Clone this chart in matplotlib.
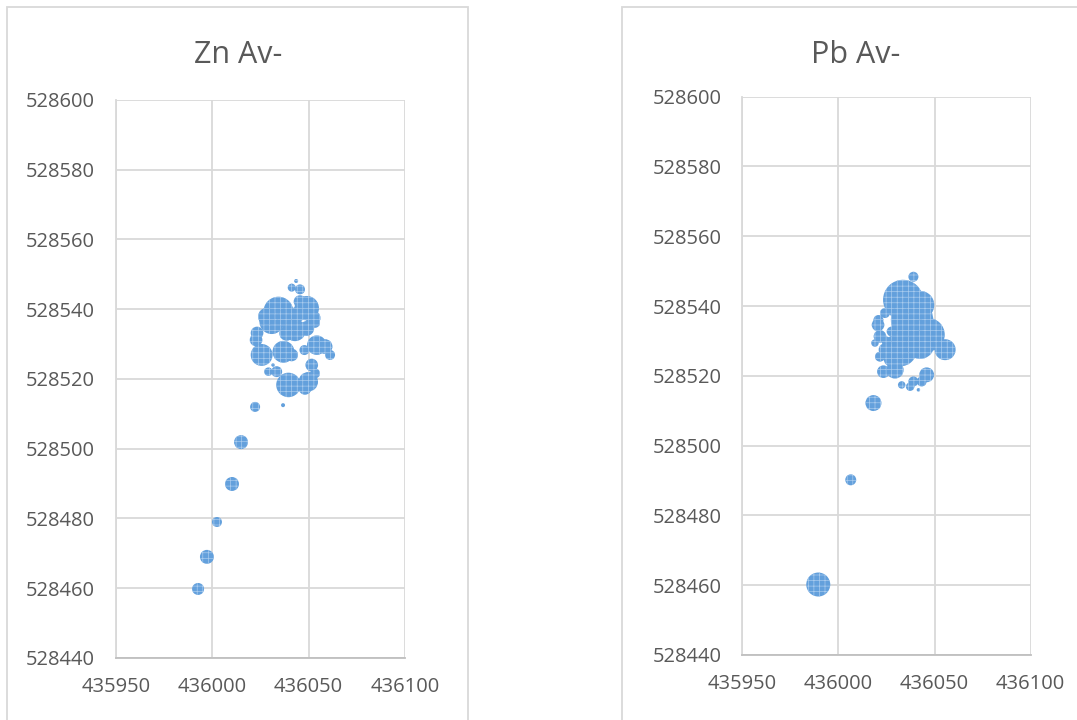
import matplotlib
matplotlib.use("Agg")
import matplotlib.pyplot as plt
from matplotlib.patches import Rectangle

plt.rcParams['font.family'] = ['Open Sans', 'DejaVu Sans']
plt.rcParams['hatch.linewidth'] = 0.5

# ---------------- data ----------------
titles = ["Zn Av-", "Pb Av-"]
x_ticks = [435950, 436000, 436050, 436100]
y_ticks = [528440, 528460, 528480, 528500, 528520, 528540, 528560, 528580, 528600]

zn_x = [435992.6, 435997.2, 436002.4, 436010.2, 436014.9, 436022.2, 436036.7,
        436043.5, 436041.2, 436045.5, 436034.3, 436030.8, 436039.5, 436028.2,
        436049.0, 436052.3, 436045.5, 436053.3, 436042.9, 436049.0, 436038.6,
        436023.2, 436022.7, 436025.6, 436036.9, 436041.2, 436047.8, 436054.2,
        436058.5, 436061.1, 436051.6, 436053.3, 436029.1, 436033.4, 436039.5,
        436049.8, 436048.1, 436031.5, 436044.0]
zn_y = [528459.8, 528469.0, 528479.0, 528489.9, 528501.9, 528512.0, 528512.5,
        528548.1, 528546.2, 528545.7, 528539.3, 528536.4, 528537.4, 528537.9,
        528540.3, 528537.5, 528542.2, 528536.1, 528534.0, 528534.5, 528533.1,
        528533.2, 528531.2, 528526.9, 528527.8, 528526.9, 528528.3, 528529.7,
        528529.3, 528526.9, 528524.0, 528521.6, 528522.1, 528522.1, 528518.3,
        528519.2, 528517.3, 528524.0, 528538.5]
zn_v = [36, 49, 25, 49, 49, 25, 4,
        4, 16, 25, 225, 150, 120, 75,
        150, 55, 40, 25, 120, 55, 55,
        40, 40, 120, 120, 40, 25, 95,
        55, 25, 40, 25, 18, 30, 150,
        95, 40, 3, 60]

pb_x = [436018.2, 436006.4, 435989.5, 436039.0, 436033.6, 436038.3, 436046.6,
        436055.5, 436032.1, 436042.5, 436024.2, 436020.8, 436020.6, 436027.7,
        436021.6, 436019.0, 436025.1, 436024.2, 436028.4, 436021.6, 436023.4,
        436029.4, 436045.9, 436043.3, 436039.0, 436037.3, 436032.9, 436041.6,
        436042.5]
pb_y = [528512.2, 528490.2, 528460.2, 528548.4, 528541.8, 528536.0, 528531.8,
        528527.5, 528527.5, 528528.9, 528538.0, 528536.0, 528534.6, 528532.7,
        528531.3, 528529.4, 528529.8, 528527.5, 528525.2, 528525.5, 528521.2,
        528521.7, 528520.3, 528518.4, 528518.4, 528516.9, 528517.4, 528516.0,
        528540.3]
pb_v = [64, 30, 144, 25, 400, 450, 280,
        110, 280, 200, 25, 25, 40, 25,
        40, 14, 25, 40, 95, 25, 40,
        75, 55, 25, 25, 18, 14, 3,
        200]

# ---------------- style ----------------
BUBBLE = '#63a0dc'
HATCH_C = '#a8cbee'
GRID = '#d9d9d9'
TEXT = '#595959'
SIZE_SCALE = 2.07

fig = plt.figure(figsize=(10.77, 7.2), dpi=100)
W, H = 1077, 720

# chart frames
for (x0, x1) in [(7, 468), (622, 1100)]:
    fig.patches.append(Rectangle((x0 / W, -0.05), (x1 - x0) / W, 1.05 - 7 / H,
                                 transform=fig.transFigure, fill=False,
                                 edgecolor=GRID, linewidth=1.3))

axes_px = [(116, 405, 100, 658), (742.3, 1030.7, 96.7, 655)]
title_cx = [238, 856]
datasets = [(zn_x, zn_y, zn_v), (pb_x, pb_y, pb_v)]

for i, ((l, r, t, b), (xs, ys, vs)) in enumerate(zip(axes_px, datasets)):
    ax = fig.add_axes([l / W, 1 - b / H, (r - l) / W, (b - t) / H])
    ax.set_xlim(x_ticks[0], x_ticks[-1])
    ax.set_ylim(y_ticks[0], y_ticks[-1])
    ax.set_xticks(x_ticks)
    ax.set_yticks(y_ticks)
    ax.set_xticklabels([str(v) for v in x_ticks])
    ax.set_yticklabels([str(v) for v in y_ticks])
    ax.grid(True, color=GRID, linewidth=1.3, zorder=0)
    ax.set_axisbelow(True)
    for s in ['top', 'right']:
        ax.spines[s].set_visible(False)
    ax.spines['left'].set_color(GRID)
    ax.spines['left'].set_linewidth(1.3)
    ax.spines['bottom'].set_color('#bfbfbf')
    ax.spines['bottom'].set_linewidth(1.3)
    ax.tick_params(axis='both', length=0, labelsize=14.5, labelcolor=TEXT)
    ax.tick_params(axis='y', pad=15)
    ax.tick_params(axis='x', pad=14)
    ax.scatter(xs, ys, s=[v * SIZE_SCALE for v in vs], c=BUBBLE,
               edgecolors=HATCH_C, linewidths=0, hatch='+++', zorder=3,
               clip_on=False)
    fig.text(title_cx[i] / W, 1 - 55 / H, titles[i], ha='center', va='center',
             fontsize=22, color=TEXT)

fig.savefig('out.png', dpi=100)
